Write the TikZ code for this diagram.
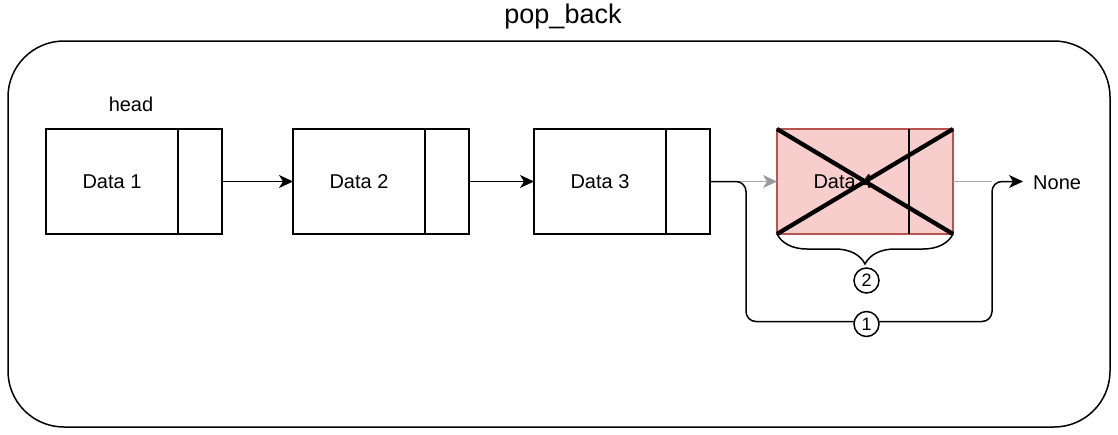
\documentclass[tikz,border=0pt]{standalone}
\usepackage{fontspec}
\setmainfont{Liberation Sans}
\usetikzlibrary{arrows.meta,decorations.pathreplacing,calc}
\definecolor{redfill}{HTML}{F8CECC}
\definecolor{redline}{HTML}{B85450}
\definecolor{gline}{HTML}{ABABAB}
\definecolor{gtip}{HTML}{9A9A9A}
\begin{document}
\begin{tikzpicture}[x=1pt,y=-1pt,
  lw/.style={line width=1.5pt},
  txt/.style={font=\fontsize{20}{23}\selectfont},
  mainbox/.style={draw,lw,rectangle,minimum width=132pt,minimum height=105pt,inner sep=0pt,outer sep=0pt,txt},
  ptrbox/.style={draw,lw,rectangle,minimum width=44pt,minimum height=105pt,inner sep=0pt,outer sep=0pt},
  redbox/.style={fill=redfill,draw=redline},
  arr/.style={lw,-{Stealth[length=14pt,width=13pt,inset=4pt]}},
  garr/.style={draw=gline,line width=1.5pt,-{Stealth[length=14pt,width=13pt,inset=4pt,color=gtip]}},
  circ/.style={circle,draw,lw,fill=white,minimum size=25pt,inner sep=0pt,font=\fontsize{18}{20}\selectfont},
  crossline/.style={line width=4.3pt}
]
\useasboundingbox (0,0) rectangle (1118,434);
\node[font=\fontsize{27}{30}\selectfont] (title) at (563,17) {pop\_back};
\draw[lw,rounded corners=56pt] (8,41) rectangle (1110,427);
\node[txt] (head) at (131,104) {head};

\node[mainbox] (d1) at (112,181.5) {Data 1};
\node[ptrbox,anchor=west] (p1) at (d1.east) {};
\node[mainbox] (d2) at (359,181.5) {Data 2};
\node[ptrbox,anchor=west] (p2) at (d2.east) {};
\node[mainbox] (d3) at (600,181.5) {Data 3};
\node[ptrbox,anchor=west] (p3) at (d3.east) {};
\node[mainbox,redbox] (d4) at (843,181.5) {Data 4};
\node[ptrbox,redbox,anchor=west] (p4) at (d4.east) {};
\draw[lw] (p4.north west) -- (p4.south west);

\node[txt,inner sep=0pt,anchor=west] (none) at (1033,183) {None};

\coordinate (r1) at (746,321.5);
\coordinate (r2) at (992,321.5);

\draw[arr] (p1.east) -- (d2.west);
\draw[arr] (p2.east) -- (d3.west);
\draw[garr] (p3.east) -- (d4.west);
\draw[draw=gline,lw] (p4.east) -- (p4.east -| r2);

\draw[arr,rounded corners=10pt] (p3.east) -| (r1) -- (r2) |- ([xshift=-10pt]none.west |- p4.east);

\draw[crossline] (d4.north west) -- (p4.south east);
\draw[crossline] (d4.south west) -- (p4.north east);

\draw[lw,decorate,decoration={brace,mirror,amplitude=30pt}] (d4.south west) -- (p4.south east);
\node[circ] (c2) at (866.5,280.5) {2};
\node[circ] (c1) at (866.5,324) {1};
\end{tikzpicture}
\end{document}
